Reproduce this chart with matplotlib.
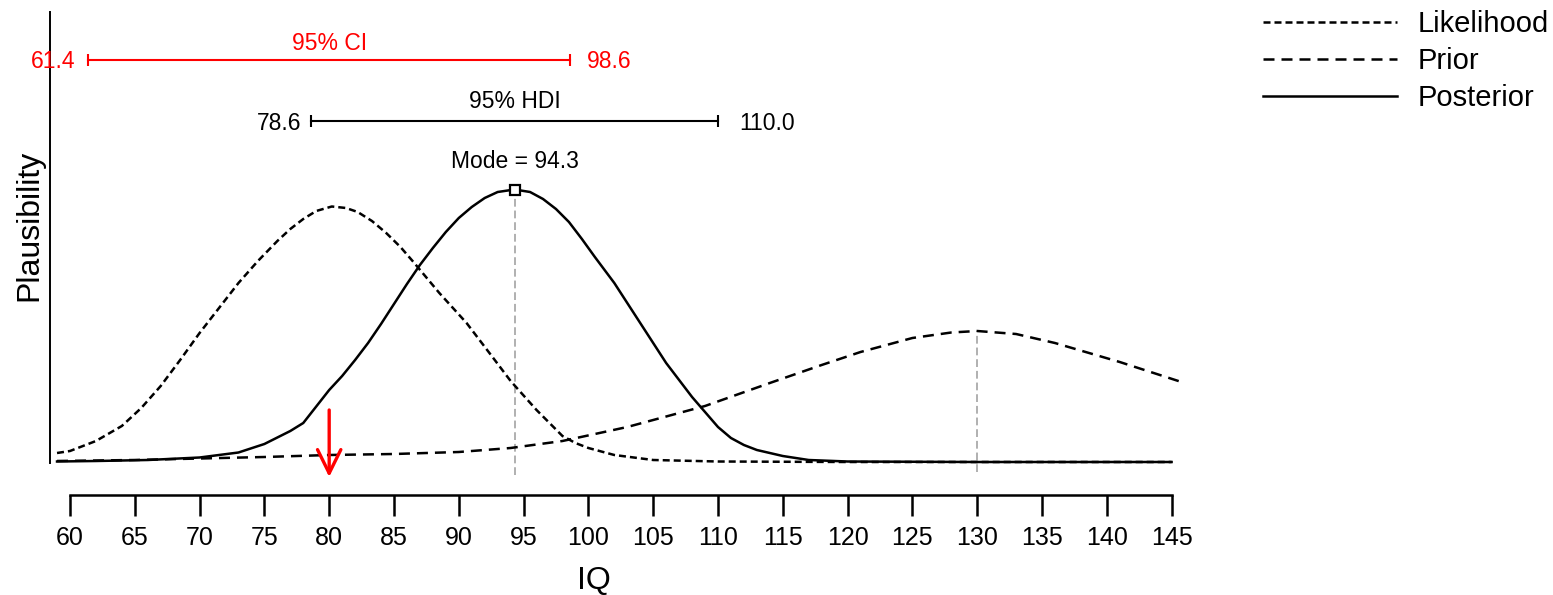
import matplotlib
matplotlib.use("Agg")
import matplotlib.pyplot as plt

plt.rcParams['font.family'] = ['Liberation Sans', 'DejaVu Sans']

# IQ grid and curve heights (arbitrary plausibility units)
likelihood_iq = [59, 60, 62, 64, 65.5, 67, 68.5, 70, 71.5, 73, 74.5, 76, 77, 78, 79, 80.2,
                 81.3, 82.2, 83.3, 84.4, 85.5, 86.5, 88.5, 90.6, 92.6, 94, 96, 98, 99, 100,
                 102, 105, 110, 120, 130, 145]
likelihood = [9, 11, 21, 36, 54, 76, 102, 129, 154, 179, 201, 221, 233, 243, 251, 255.5,
              254, 250, 241, 229, 215, 200, 169, 139, 105, 81, 52, 26, 19, 14,
              7, 2, 0.5, 0, 0, 0]

prior_iq = [59, 65, 70, 75, 80, 85, 90, 94, 98, 103, 109, 114, 118, 121, 125, 128, 130,
            133, 136, 141, 146]
prior = [1, 2, 3.5, 5, 7, 8, 10, 14, 21, 35, 56, 79, 97, 110, 124, 129.5, 131,
         128, 119, 100, 79]

posterior_iq = [59, 62, 66, 70, 73, 75, 77, 78, 80, 81, 82, 83, 84, 85, 86, 87, 88, 89,
                90, 91, 92, 93, 94.3, 95.5, 96.5, 97.5, 98.5, 99.5, 100.5, 102, 104, 106,
                107, 108, 109, 110, 111, 112, 113, 115, 117, 120, 130, 145]
posterior = [0.5, 1, 2, 4.5, 9.5, 18, 31, 39, 72, 86, 102, 119, 138, 158, 178, 197, 214, 230,
             244, 255, 264, 270, 272.5, 270, 263, 253, 240, 223, 205, 179, 139, 99,
             82, 65, 50, 35, 24, 17, 12, 6, 2, 0.5, 0, 0]

mode = 94.3
prior_mean = 130
observed = 80
ci = (61.4, 98.6)
hdi = (78.6, 110.0)
xticks = list(range(60, 150, 5))

fig = plt.figure(figsize=(15.53, 5.95), dpi=100)
ax = fig.add_axes([0, 0, 1, 1])
ax.set_xlim(54.60, 174.43)
ax.set_ylim(-133, 462)

# guide lines at posterior mode and prior mean
ax.plot([mode, mode], [-13, max(posterior)], color='#b0b0b0', lw=1.4,
        linestyle=(0, (4, 2)), zorder=1)
ax.plot([prior_mean, prior_mean], [-10, max(prior)], color='#b0b0b0', lw=1.4,
        linestyle=(0, (4, 2)), zorder=1)

ax.plot(likelihood_iq, likelihood, color='black', lw=1.8, linestyle=(0, (2.8, 1.6)),
        label='Likelihood', zorder=3)
ax.plot(prior_iq, prior, color='black', lw=1.8, linestyle=(0, (4.4, 2.8)),
        label='Prior', zorder=3)
ax.plot(posterior_iq, posterior, color='black', lw=1.8, linestyle='-',
        label='Posterior', zorder=3)

ax.plot([mode], [max(posterior)], marker='s', markersize=7.5, markerfacecolor='white',
        markeredgecolor='black', markeredgewidth=1.6, zorder=4)
ax.text(mode, 300, 'Mode = %.1f' % mode, ha='center', va='center', fontsize=16.5)

# 95% HDI
y_hdi = 341
ax.plot(hdi, [y_hdi, y_hdi], color='black', lw=1.5)
ax.vlines(hdi, y_hdi - 6, y_hdi + 6, color='black', lw=1.5)
ax.text(sum(hdi) / 2, 360, '95% HDI', ha='center', va='center', fontsize=16.5)
ax.annotate('%.1f' % hdi[0], (hdi[0], y_hdi - 2), xytext=(-7, 0), textcoords='offset points',
            ha='right', va='center', fontsize=16.5)
ax.annotate('%.1f' % hdi[1], (hdi[1], y_hdi - 2), xytext=(15, 0), textcoords='offset points',
            ha='left', va='center', fontsize=16.5)

# 95% CI
y_ci = 402
ax.plot(ci, [y_ci, y_ci], color='red', lw=1.5)
ax.vlines(ci, y_ci - 6, y_ci + 6, color='red', lw=1.5)
ax.text(sum(ci) / 2, 418, '95% CI', ha='center', va='center', fontsize=16.5, color='red')
ax.annotate('%.1f' % ci[0], (ci[0], y_ci - 2), xytext=(-9, 0), textcoords='offset points',
            ha='right', va='center', fontsize=16.5, color='red')
ax.annotate('%.1f' % ci[1], (ci[1], y_ci - 2), xytext=(12, 0), textcoords='offset points',
            ha='left', va='center', fontsize=16.5, color='red')

# observed score
ax.annotate('', xy=(observed, -15), xytext=(observed, 52),
            arrowprops=dict(arrowstyle='->,head_length=0.85,head_width=0.42', color='red',
                            lw=2.4, mutation_scale=20, shrinkA=0, shrinkB=0))

# axes styling
for side in ['top', 'right']:
    ax.spines[side].set_visible(False)
ax.spines['left'].set_position(('data', 58.46))
ax.spines['left'].set_bounds(-1, 450)
ax.spines['left'].set_linewidth(1.4)
ax.spines['bottom'].set_position(('data', -33))
ax.spines['bottom'].set_bounds(60, 145)
ax.spines['bottom'].set_linewidth(1.8)
ax.set_yticks([])
ax.set_xticks(xticks)
ax.tick_params(axis='x', direction='out', length=15, width=1.8, pad=7, labelsize=18)

ax.text(100.4, -119, 'IQ', ha='center', va='center', fontsize=23)
ax.text(56.9, 237, 'Plausibility', ha='center', va='center', rotation=90, fontsize=23)

ax.legend(loc='upper left', bbox_to_anchor=(1263 / 1553, 1 - 10 / 595), frameon=False,
          fontsize=21, handlelength=4.6, handletextpad=0.7, labelspacing=0.31,
          borderaxespad=0, borderpad=0)

fig.savefig('out.png', dpi=100)
